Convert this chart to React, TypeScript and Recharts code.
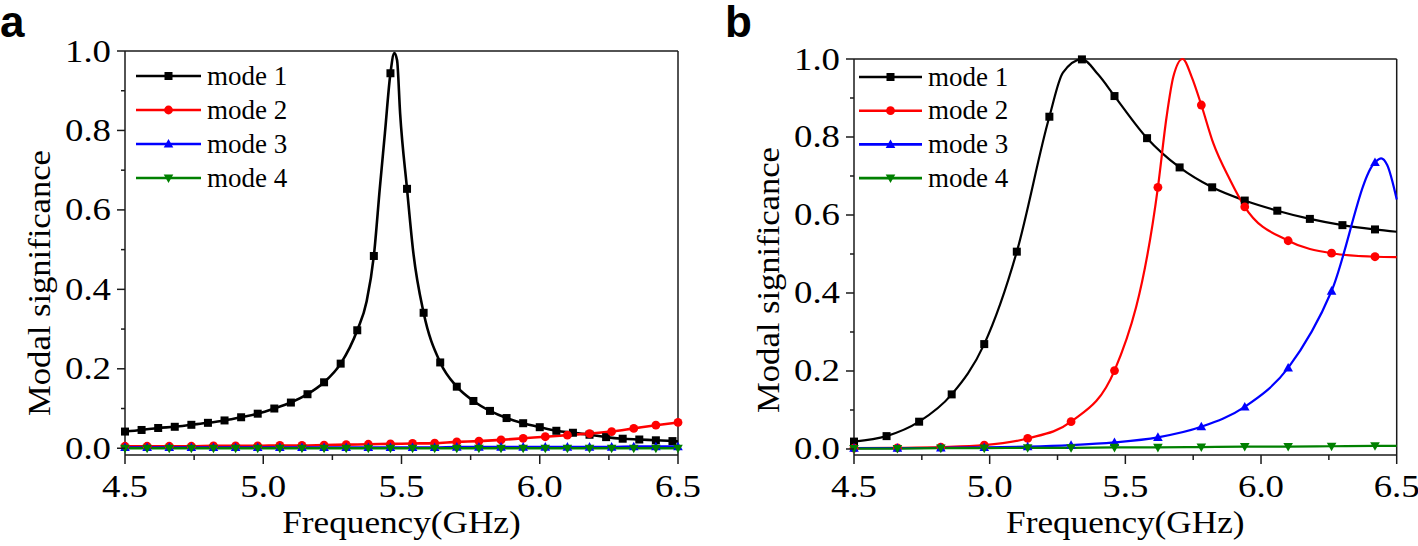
import React from 'react';
import { ComposedChart, Line, XAxis, YAxis, ReferenceLine, Legend } from 'recharts';

const FONT = '"Liberation Serif", "Times New Roman", serif';
const SANS = '"Liberation Sans", Arial, sans-serif';
const AXIS = '#1a1a1a';

// ---------- legend / series identity ----------
const modeNames = ['mode 1', 'mode 2', 'mode 3', 'mode 4'];
const modeColors = ['#000000', '#ff0000', '#0000ff', '#008000'];
const modeShapes = ['square', 'circle', 'triangle', 'triangleDown'];

// ---------- axis ticks ----------
const xTickValues = [4.5, 4.75, 5.0, 5.25, 5.5, 5.75, 6.0, 6.25, 6.5];
const xTickLabels = ['4.5', '', '5.0', '', '5.5', '', '6.0', '', '6.5'];
const yTickValues = [0, 0.1, 0.2, 0.3, 0.4, 0.5, 0.6, 0.7, 0.8, 0.9, 1.0];
const yTickLabels = ['0.0', '', '0.2', '', '0.4', '', '0.6', '', '0.8', '', '1.0'];

// ---------- panel a ----------
const freqA1 = [4.50, 4.56, 4.62, 4.68, 4.74, 4.80, 4.86, 4.92, 4.98, 5.04, 5.10, 5.16, 5.22, 5.28, 5.34, 5.40, 5.46,
  5.52, 5.58, 5.64, 5.70, 5.76, 5.82, 5.88, 5.94, 6.00, 6.06, 6.12, 6.18, 6.24, 6.30, 6.36, 6.42, 6.48];
const valA1 = [0.042, 0.046, 0.051, 0.054, 0.059, 0.064, 0.070, 0.078, 0.087, 0.100, 0.115, 0.136, 0.166, 0.213, 0.297, 0.484, 0.944,
  0.653, 0.341, 0.216, 0.155, 0.119, 0.094, 0.076, 0.063, 0.053, 0.044, 0.039, 0.034, 0.028, 0.024, 0.022, 0.020, 0.018];
const extraFreqA1 = [5.374, 5.422, 5.440, 5.474, 5.484, 5.495, 5.543, 6.50];
const extraValA1 = [0.370, 0.658, 0.793, 0.995, 0.977, 0.843, 0.491, 0.017];

const freqA = [4.50, 4.58, 4.66, 4.74, 4.82, 4.90, 4.98, 5.06, 5.14, 5.22, 5.30, 5.38, 5.46,
  5.54, 5.62, 5.70, 5.78, 5.86, 5.94, 6.02, 6.10, 6.18, 6.26, 6.34, 6.42, 6.50];
const valA2 = [0.005, 0.005, 0.005, 0.005, 0.006, 0.006, 0.006, 0.007, 0.007, 0.008, 0.009, 0.010, 0.011,
  0.012, 0.013, 0.016, 0.018, 0.021, 0.025, 0.029, 0.033, 0.037, 0.042, 0.050, 0.058, 0.065];
const valA3 = [0.002, 0.002, 0.002, 0.002, 0.002, 0.002, 0.002, 0.002, 0.002, 0.002, 0.002, 0.002, 0.002,
  0.002, 0.002, 0.003, 0.003, 0.003, 0.003, 0.003, 0.003, 0.003, 0.003, 0.004, 0.004, 0.004];
const valA4 = [0.000, 0.000, 0.000, 0.000, 0.000, 0.000, 0.000, 0.000, 0.000, 0.000, 0.000, 0.000, 0.000,
  0.000, 0.000, 0.000, 0.000, 0.000, 0.000, 0.000, 0.000, 0.000, 0.000, 0.000, 0.000, 0.000];

// ---------- panel b ----------
const freqB1 = [4.50, 4.62, 4.74, 4.86, 4.98, 5.10, 5.22, 5.34, 5.46, 5.58, 5.70, 5.82, 5.94, 6.06, 6.18, 6.30, 6.42];
const valB1 = [0.019, 0.033, 0.070, 0.140, 0.269, 0.506, 0.852, 0.999, 0.905, 0.797, 0.722, 0.671, 0.637, 0.611, 0.590, 0.574, 0.563];
const extraFreqB1 = [5.27, 5.40, 6.50];
const extraValB1 = [0.965, 0.960, 0.557];

const freqB = [4.50, 4.66, 4.82, 4.98, 5.14, 5.30, 5.46, 5.62, 5.78, 5.94, 6.10, 6.26, 6.42];
const valB2 = [0.002, 0.003, 0.005, 0.010, 0.027, 0.070, 0.201, 0.671, 0.882, 0.621, 0.534, 0.502, 0.493];
const extraFreqB2 = [5.652, 5.677, 5.711, 5.744, 5.824, 5.886, 6.50];
const extraValB2 = [0.852, 0.955, 1.000, 0.955, 0.784, 0.690, 0.492];
const valB3 = [0.002, 0.002, 0.003, 0.004, 0.006, 0.010, 0.017, 0.030, 0.057, 0.108, 0.208, 0.405, 0.735];
const extraFreqB3 = [6.443, 6.465, 6.50];
const extraValB3 = [0.745, 0.728, 0.640];
const valB4 = [0.001, 0.001, 0.002, 0.002, 0.003, 0.003, 0.004, 0.004, 0.005, 0.006, 0.006, 0.007, 0.008];
const extraFreqB4 = [6.50];
const extraValB4 = [0.008];

type Pt = { f: number; v: number };
const zip = (fs: number[], vs: number[]): Pt[] => fs.map((f, i) => ({ f, v: vs[i] }));
const merge = (a: Pt[], b: Pt[]): Pt[] => [...a, ...b].sort((p, q) => p.f - q.f);
type Series = { markers: Pt[]; curve: Pt[] };
const mk = (fs: number[], vs: number[], efs: number[] = [], evs: number[] = []): Series => {
  const markers = zip(fs, vs);
  return { markers, curve: merge(markers, zip(efs, evs)) };
};

const seriesA: Series[] = [
  mk(freqA1, valA1, extraFreqA1, extraValA1),
  mk(freqA, valA2),
  mk(freqA, valA3),
  mk(freqA, valA4),
];
const seriesB: Series[] = [
  mk(freqB1, valB1, extraFreqB1, extraValB1),
  mk(freqB, valB2, extraFreqB2, extraValB2),
  mk(freqB, valB3, extraFreqB3, extraValB3),
  mk(freqB, valB4, extraFreqB4, extraValB4),
];

function Marker({ cx, cy, shape, color, size }: { cx: number; cy: number; shape: string; color: string; size: number }) {
  if (cx == null || cy == null || isNaN(cx) || isNaN(cy)) return null;
  const s = size;
  if (shape === 'square') return <rect x={cx - s / 2} y={cy - s / 2} width={s} height={s} fill={color} />;
  if (shape === 'circle') return <circle cx={cx} cy={cy} r={s / 2 + 0.4} fill={color} />;
  if (shape === 'triangle')
    return <polygon points={`${cx},${cy - 0.62 * s} ${cx - 0.6 * s},${cy + 0.45 * s} ${cx + 0.6 * s},${cy + 0.45 * s}`} fill={color} />;
  return <polygon points={`${cx},${cy + 0.62 * s} ${cx - 0.6 * s},${cy - 0.45 * s} ${cx + 0.6 * s},${cy - 0.45 * s}`} fill={color} />;
}

const TICK_FS = 32;
const TICK_SX = 1.15;

const XTick = (props: any) => {
  const { x, y, payload } = props;
  const idx = xTickValues.findIndex((t) => Math.abs(t - payload.value) < 1e-6);
  const label = idx >= 0 ? xTickLabels[idx] : '';
  const major = label !== '';
  return (
    <g>
      <line x1={x} y1={y} x2={x} y2={y + (major ? 9 : 5)} stroke={AXIS} strokeWidth={1.5} />
      {major && (
        <text transform={`translate(${x},${y + 42}) scale(${TICK_SX},1)`} textAnchor="middle" fontFamily={FONT} fontSize={TICK_FS} fill="#000">
          {label}
        </text>
      )}
    </g>
  );
};

const YTick = (props: any) => {
  const { x, y, payload } = props;
  const idx = yTickValues.findIndex((t) => Math.abs(t - payload.value) < 1e-6);
  const label = idx >= 0 ? yTickLabels[idx] : '';
  const major = label !== '';
  return (
    <g>
      <line x1={x} y1={y} x2={x - (major ? 8 : 4)} y2={y} stroke={AXIS} strokeWidth={1.5} />
      {major && (
        <text transform={`translate(${x - 14},${y + 10.5}) scale(${TICK_SX},1)`} textAnchor="end" fontFamily={FONT} fontSize={TICK_FS} fill="#000">
          {label}
        </text>
      )}
    </g>
  );
};

function LegendBox({ lineLen, rowGap, markerSize }: { lineLen: number; rowGap: number; markerSize: number }) {
  return (
    <svg width={230} height={rowGap * 4 + 10} style={{ display: 'block', overflow: 'visible' }}>
      {modeNames.map((n, i) => {
        const y = 12 + i * rowGap;
        return (
          <g key={n}>
            <line x1={0} x2={lineLen} y1={y} y2={y} stroke={modeColors[i]} strokeWidth={2.6} />
            <Marker cx={lineLen / 2} cy={y} shape={modeShapes[i]} color={modeColors[i]} size={markerSize} />
            <text x={lineLen + 6} y={y + 8.5} fontFamily={FONT} fontSize={27} fill="#000">
              {n}
            </text>
          </g>
        );
      })}
    </svg>
  );
}

type PanelProps = {
  left: number;
  width: number;
  marginTop: number;
  marginRight: number;
  yMin: number;
  series: Series[];
  lineWidth: number;
  markerSize: number;
  legendLeft: number;
  legendTop: number;
  legendLineLen: number;
  legendGap: number;
};

function Panel(p: PanelProps) {
  return (
    <div style={{ position: 'absolute', left: p.left, top: 0, width: p.width, height: 546 }}>
      <ComposedChart width={p.width} height={546} margin={{ top: p.marginTop, right: p.marginRight, bottom: 0, left: 0 }}>
        <XAxis
          type="number"
          dataKey="f"
          domain={[4.5, 6.5]}
          ticks={xTickValues}
          interval={0}
          tickSize={0}
          tickMargin={0}
          tickLine={false}
          axisLine={{ stroke: AXIS, strokeWidth: 1.5 }}
          height={91}
          tick={<XTick />}
        />
        <YAxis
          type="number"
          domain={[p.yMin, 1]}
          ticks={yTickValues}
          interval={0}
          width={125}
          tickSize={0}
          tickMargin={0}
          tickLine={false}
          axisLine={{ stroke: AXIS, strokeWidth: 1.5 }}
          tick={<YTick />}
        />
        <ReferenceLine y={1} stroke={AXIS} strokeWidth={1.5} />
        <ReferenceLine x={6.5} stroke={AXIS} strokeWidth={1.5} />
        {p.series.map((s, i) => (
          <Line
            key={'c' + i}
            data={s.curve}
            dataKey="v"
            type="monotone"
            stroke={modeColors[i]}
            strokeWidth={p.lineWidth}
            dot={false}
            activeDot={false}
            legendType="none"
            isAnimationActive={false}
          />
        ))}
        {p.series.map((s, i) => (
          <Line
            key={'m' + i}
            name={modeNames[i]}
            data={s.markers}
            dataKey="v"
            stroke="none"
            activeDot={false}
            dot={(dp: any) => (
              <Marker key={`d${i}-${dp.index}`} cx={dp.cx} cy={dp.cy} shape={modeShapes[i]} color={modeColors[i]} size={p.markerSize} />
            )}
            isAnimationActive={false}
          />
        ))}
        <Legend
          layout="vertical"
          align="center"
          verticalAlign="middle"
          wrapperStyle={{ left: p.legendLeft, top: p.legendTop, width: 230, height: 150 }}
          content={() => <LegendBox lineLen={p.legendLineLen} rowGap={p.legendGap} markerSize={p.markerSize} />}
        />
      </ComposedChart>
    </div>
  );
}

const TITLE_FS = 32;

export default function App() {
  return (
    <div style={{ position: 'absolute', left: 0, top: 0, width: 1418, height: 546, background: '#fff', overflow: 'hidden' }}>
      <Panel
        left={0}
        width={700}
        marginTop={51}
        marginRight={22}
        yMin={-0.017}
        series={seriesA}
        lineWidth={2.6}
        markerSize={8}
        legendLeft={136}
        legendTop={63.7}
        legendLineLen={65}
        legendGap={34}
      />
      <Panel
        left={729}
        width={689}
        marginTop={59}
        marginRight={21.3}
        yMin={-0.0154}
        series={seriesB}
        lineWidth={2.2}
        markerSize={8}
        legendLeft={130}
        legendTop={65}
        legendLineLen={63}
        legendGap={33.7}
      />
      <svg width={1418} height={546} style={{ position: 'absolute', left: 0, top: 0, pointerEvents: 'none' }}>
        <text x={0} y={36.5} fontFamily={SANS} fontWeight="bold" fontSize={44} fill="#000">a</text>
        <text x={725} y={36.5} fontFamily={SANS} fontWeight="bold" fontSize={44} fill="#000">b</text>
        <text transform={`translate(401.5,533) scale(1.1,1)`} textAnchor="middle" fontFamily={FONT} fontSize={TITLE_FS} fill="#000">
          Frequency(GHz)
        </text>
        <text transform={`translate(1125.3,533) scale(1.1,1)`} textAnchor="middle" fontFamily={FONT} fontSize={TITLE_FS} fill="#000">
          Frequency(GHz)
        </text>
        <text transform={`translate(50,283) rotate(-90) scale(1.08,1)`} textAnchor="middle" fontFamily={FONT} fontSize={TITLE_FS} fill="#000">
          Modal significance
        </text>
        <text transform={`translate(779,280) rotate(-90) scale(1.08,1)`} textAnchor="middle" fontFamily={FONT} fontSize={TITLE_FS} fill="#000">
          Modal significance
        </text>
      </svg>
    </div>
  );
}
